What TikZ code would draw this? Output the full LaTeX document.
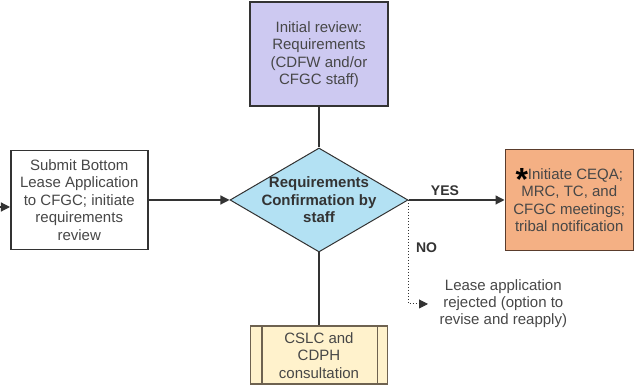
\documentclass[tikz,border=0pt]{standalone}
\usepackage{fontspec}
\setmainfont{Liberation Sans}
\usetikzlibrary{arrows.meta,positioning,shapes,calc}
\definecolor{reviewlilac}{HTML}{CDC9F1}
\definecolor{checkblue}{HTML}{B3E1F3}
\definecolor{ceqaorange}{HTML}{F4B084}
\definecolor{consultcream}{HTML}{FFF2CC}
\definecolor{inkgray}{HTML}{333333}
\definecolor{textgray}{HTML}{474747}
\definecolor{creamedge}{HTML}{6E6250}
\definecolor{orangeedge}{HTML}{5A3C2C}

\begin{document}
\begin{tikzpicture}[x=1pt,y=1pt,
    box/.style={draw=inkgray,line width=1.5pt,align=center,text=textgray,inner sep=2pt,font=\fontsize{15}{17.5}\selectfont},
    link/.style={draw=inkgray,line width=1.2pt},
    tip/.style={-{Triangle[length=9pt,width=9pt]}},
    tag/.style={text=inkgray,inner sep=1pt,font=\bfseries\fontsize{14}{16}\selectfont}]
    \useasboundingbox (0,0) rectangle (638,387);
    % decision
    \node[draw=inkgray,line width=1pt,diamond,fill=checkblue,minimum width=178pt,minimum height=104pt,inner sep=0pt] (check) at (319,187) {};
    \node[align=center,text=inkgray,font=\bfseries\fontsize{15}{17.5}\selectfont] (checktext) at (check) {Requirements\\Confirmation by\\staff};
    % boxes around the decision
    \node[box,fill=white,minimum width=137pt,minimum height=99pt,left=81pt of check] (submit) {Submit Bottom\\Lease Application\\to CFGC; initiate\\requirements\\review};
    \node[box,fill=reviewlilac,line width=2pt,minimum width=138pt,minimum height=104pt,above=40pt of check] (review) {Initial review:\\Requirements\\(CDFW and/or\\CFGC staff)};
    \node[box,fill=ceqaorange,draw=orangeedge,minimum width=128pt,minimum height=101pt,right=96pt of check] (ceqa) {\raisebox{-11pt}[0pt][0pt]{\color{black}\bfseries\fontsize{32}{32}\selectfont *}Initiate CEQA;\\MRC, TC, and\\CFGC meetings;\\tribal notification};
    \node[box,fill=consultcream,draw=creamedge,minimum width=137pt,minimum height=58pt,below=73pt of check] (consult) {CSLC and\\CDPH\\consultation};
    \draw[draw=creamedge,line width=1.5pt] ($(consult.north west)+(12pt,0)$) -- ($(consult.south west)+(12pt,0)$);
    \draw[draw=creamedge,line width=1.5pt] ($(consult.north east)+(-11pt,0)$) -- ($(consult.south east)+(-11pt,0)$);
    \node[align=center,text=textgray,font=\fontsize{15}{17}\selectfont,anchor=west] (reject) at (436,83) {Lease application\\rejected (option to\\revise and reapply)};
    \coordinate (incoming) at (0,180);
    % arrows
    \draw[link,tip] (incoming) -- (incoming -| submit.west);
    \draw[link,tip] (submit) -- (check);
    \draw[link] (review) -- (check);
    \draw[link] (check) -- (consult);
    \draw[link,tip] (check) -- node[tag,above=3pt,pos=.38] (yes) {YES} (ceqa);
    \draw[draw=inkgray,line width=1pt,dotted,tip] (check.east) |- node[tag,right=6pt,pos=.23] (no) {NO} ([xshift=-8pt]reject.west);
\end{tikzpicture}
\end{document}
